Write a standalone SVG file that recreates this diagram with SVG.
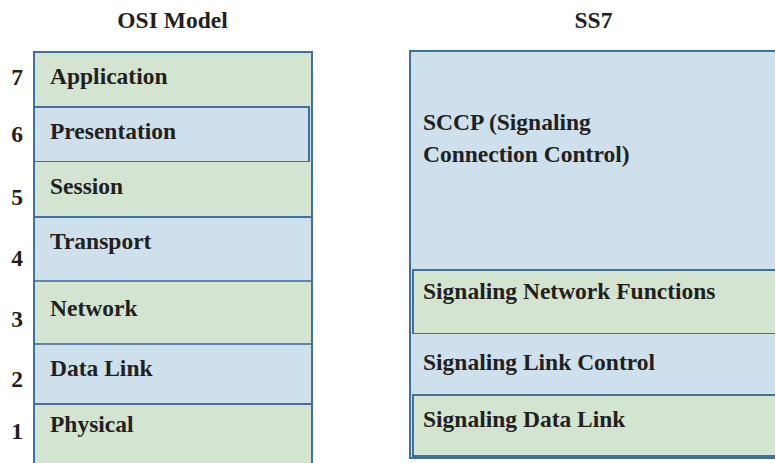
<svg xmlns="http://www.w3.org/2000/svg" width="775" height="463" viewBox="0 0 775 463">
  <style>
    .t { font-family: "Liberation Serif", "Times New Roman", serif; font-weight: bold; font-size: 23.5px; fill: #231F20; }
    .c { text-anchor: middle; }
    .green { fill: #D3E4D0; }
    .blue { fill: #CEE0EC; }
    .edge { fill: none; stroke: #41709F; stroke-width: 2; }
  </style>
  <rect width="775" height="463" fill="#FFFFFF"/>

  <!-- column titles -->
  <text class="t c" x="172.5" y="28">OSI Model</text>
  <text class="t c" x="593.5" y="28">SS7</text>

  <!-- OSI stack -->
  <g id="osi-stack">
    <g id="osi-application">
      <rect class="green" x="34" y="52" width="278" height="55"/>
      <text class="t" x="50" y="84">Application</text>
      <text class="t c" x="17" y="85">7</text>
    </g>
    <g id="osi-presentation">
      <rect class="blue" x="34" y="107" width="278" height="55"/>
      <rect class="edge" x="34" y="107" width="275" height="55"/>
      <text class="t" x="50" y="139">Presentation</text>
      <text class="t c" x="17" y="142">6</text>
    </g>
    <g id="osi-session">
      <rect class="green" x="34" y="162" width="278" height="55"/>
      <text class="t" x="50" y="194">Session</text>
      <text class="t c" x="17" y="205">5</text>
    </g>
    <g id="osi-transport">
      <rect class="blue" x="34" y="217" width="278" height="64"/>
      <text class="t" x="50" y="249">Transport</text>
      <text class="t c" x="17" y="266">4</text>
    </g>
    <g id="osi-network">
      <rect class="green" x="34" y="281" width="278" height="63"/>
      <text class="t" x="50" y="316">Network</text>
      <text class="t c" x="17" y="327">3</text>
    </g>
    <g id="osi-datalink">
      <rect class="blue" x="34" y="344" width="278" height="60"/>
      <text class="t" x="50" y="376">Data Link</text>
      <text class="t c" x="17" y="387">2</text>
    </g>
    <g id="osi-physical">
      <rect class="green" x="34" y="404" width="278" height="70"/>
      <text class="t" x="50" y="432">Physical</text>
      <text class="t c" x="17" y="439">1</text>
    </g>
    <!-- layer dividers and frame -->
    <g class="edge">
      <line x1="34" y1="217" x2="312" y2="217"/>
      <line x1="34" y1="281" x2="312" y2="281" stroke="#5F86AC"/>
      <line x1="34" y1="344" x2="312" y2="344" stroke="#5F86AC"/>
      <line x1="34" y1="404" x2="312" y2="404"/>
      <path d="M34,470 V52 H312 V470"/>
    </g>
  </g>

  <!-- SS7 stack -->
  <g id="ss7-stack">
    <g id="ss7-sccp">
      <rect class="blue" x="410" y="51" width="370" height="219"/>
      <text class="t" x="423" y="130">SCCP (Signaling</text>
      <text class="t" x="423" y="162">Connection Control)</text>
    </g>
    <g id="ss7-network-functions">
      <rect class="green" x="410" y="270" width="370" height="64"/>
      <rect class="edge" x="413" y="270" width="370" height="64"/>
      <text class="t" x="423" y="299">Signaling Network Functions</text>
    </g>
    <g id="ss7-link-control">
      <rect class="blue" x="410" y="334" width="370" height="61"/>
      <text class="t" x="423" y="370">Signaling Link Control</text>
    </g>
    <g id="ss7-data-link">
      <rect class="green" x="410" y="395" width="370" height="63"/>
      <rect class="edge" x="413" y="395" width="370" height="61"/>
      <text class="t" x="423" y="427">Signaling Data Link</text>
    </g>
    <path class="edge" d="M780,51 H410 V458 H780"/>
  </g>
</svg>
